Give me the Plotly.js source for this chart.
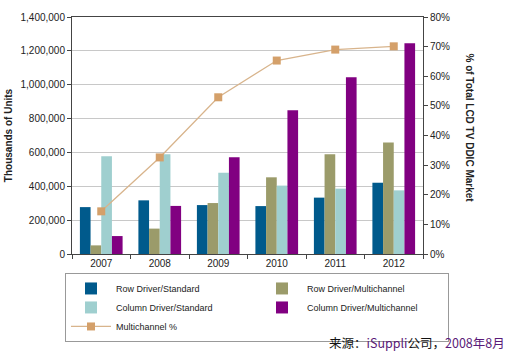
<!DOCTYPE html>
<html>
<head>
<meta charset="utf-8">
<script src="https://cdn.plot.ly/plotly-3.0.1.min.js"></script>
<style>html,body{margin:0;padding:0;background:#fff;}#chart{width:515px;height:354px;}</style>
</head>
<body>
<div id="chart"></div>
<script>
const years = ["2007", "2008", "2009", "2010", "2011", "2012"];
const rowStandard = [277000, 317000, 289000, 283000, 333000, 421000];
const rowMulti = [51000, 150000, 301000, 453000, 589000, 658000];
const colStandard = [577000, 589000, 480000, 404000, 386000, 376000];
const colMulti = [106000, 284000, 571000, 849000, 1044000, 1245000];
const multiPct = [0.144, 0.326, 0.529, 0.653, 0.690, 0.701];
const yTickVals = [0, 200000, 400000, 600000, 800000, 1000000, 1200000, 1400000];
const y2TickVals = [0, 0.1, 0.2, 0.3, 0.4, 0.5, 0.6, 0.7, 0.8];

const FONT = "Liberation Sans, Arial, sans-serif";
const bar = (name, y, color) => ({
  type: "bar", name: name, x: years, y: y,
  marker: {color: color, line: {width: 0}}, yaxis: "y"
});
const data = [
  bar("Row Driver/Standard", rowStandard, "#005a8c"),
  bar("Row Driver/Multichannel", rowMulti, "#9b9b6a"),
  bar("Column Driver/Standard", colStandard, "#9fcfcf"),
  bar("Column Driver/Multichannel", colMulti, "#810081"),
  {type: "scatter", mode: "lines+markers", name: "Multichannel %", x: years, y: multiPct,
   yaxis: "y2", line: {color: "#d8b48c", width: 1.3},
   marker: {symbol: "square", size: 8, color: "#d4a06a", line: {width: 0}}}
];

const layout = {
  width: 515, height: 354,
  margin: {l: 72, r: 92, t: 17, b: 100},
  paper_bgcolor: "#fff", plot_bgcolor: "#fff",
  font: {family: FONT, size: 10, color: "#333"},
  barmode: "group", bargap: 0.27, bargroupgap: 0,
  showlegend: true,
  xaxis: {
    type: "category", showgrid: false, showline: true, linecolor: "#444", linewidth: 1,
    mirror: true, ticks: "outside", tickson: "boundaries", ticklen: 4, tickcolor: "#444",
    tickfont: {size: 10, color: "#222"}
  },
  yaxis: {
    range: [0, 1400000], tickvals: yTickVals, tickformat: ",d",
    showgrid: true, gridcolor: "#c8c8c8", gridwidth: 1, zeroline: false,
    showline: true, linecolor: "#444", linewidth: 1, ticks: "outside", ticklen: 4, tickcolor: "#444",
    tickfont: {size: 10, color: "#222"},
    title: {text: "<b>Thousands of Units</b>", font: {size: 10, color: "#222"}, standoff: 6}
  },
  yaxis2: {
    overlaying: "y", side: "right", range: [0, 0.8], tickvals: y2TickVals, tickformat: ".0%",
    showgrid: false, zeroline: false, showline: true, linecolor: "#444", linewidth: 1,
    ticks: "outside", ticklen: 4, tickcolor: "#444", tickfont: {size: 10, color: "#222"}
  },
  legend: {
    orientation: "h", x: -0.02, xanchor: "left", y: -0.08, yanchor: "top",
    bordercolor: "#999", borderwidth: 1, bgcolor: "rgba(0,0,0,0)",
    font: {size: 9, color: "#222"}, entrywidth: 136, entrywidthmode: "pixels",
    traceorder: "normal", itemwidth: 40
  },
  annotations: [
    {xref: "paper", yref: "paper", x: 1.155, y: 0.53, text: "<b>% of Total LCD TV DDIC Market</b>",
     textangle: 90, showarrow: false, font: {size: 10, color: "#222"}},
    {xref: "paper", yref: "paper", x: 1.24, y: -0.375, xanchor: "right", yanchor: "middle",
     text: "来源：<span style=\"color:#5a1a78\">iSuppli</span>公司，<span style=\"color:#5a1a78\">2008年8月</span>",
     showarrow: false, font: {family: "Noto Sans CJK SC, sans-serif", size: 12.5, color: "#111"}}
  ]
};

Plotly.newPlot("chart", data, layout, {displayModeBar: false, staticPlot: true});
</script>
</body>
</html>
